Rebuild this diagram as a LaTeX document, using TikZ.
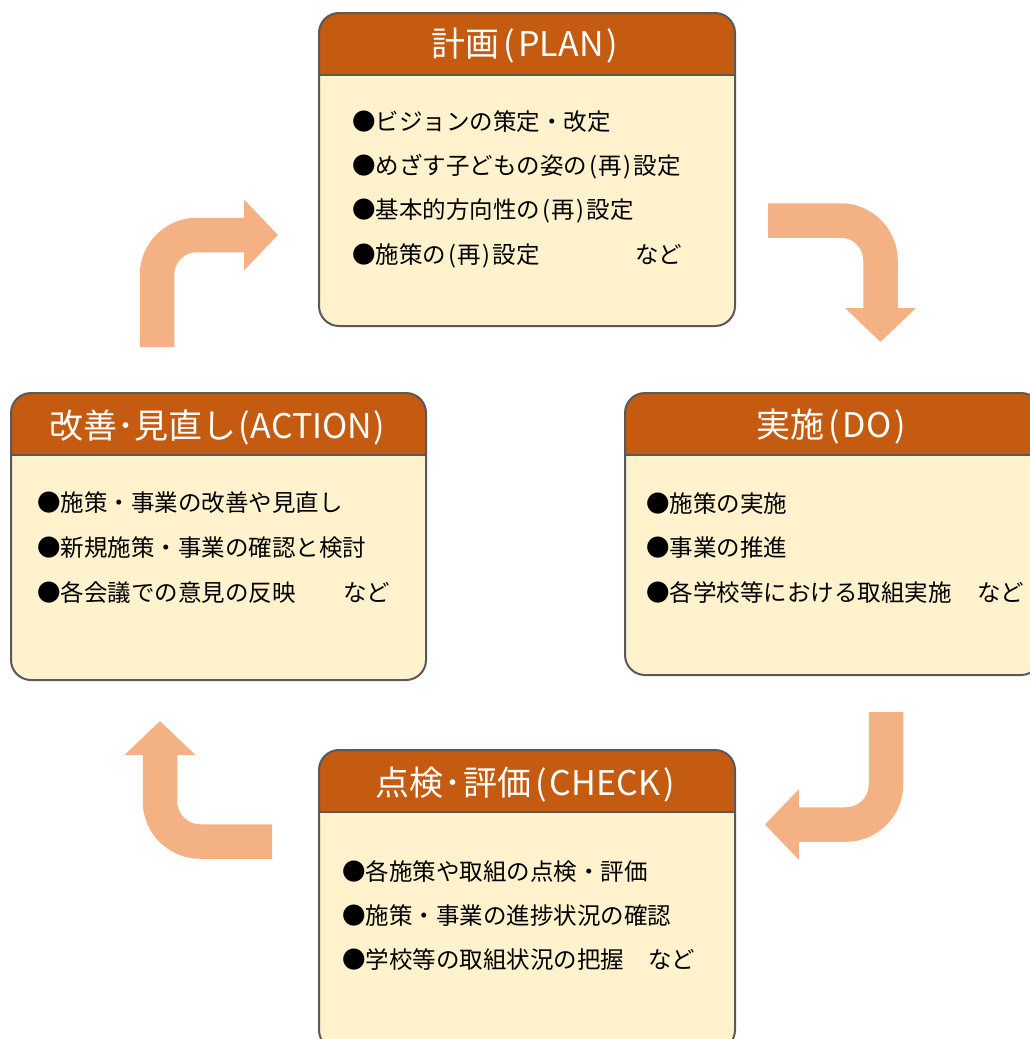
\documentclass[tikz,border=0pt]{standalone}
\usepackage{fontspec}
\newfontfamily\jpfont{Noto Sans CJK JP}
\usetikzlibrary{arrows.meta,calc}
\definecolor{headfill}{HTML}{C55A11}
\definecolor{bodyfill}{HTML}{FFF2CC}
\definecolor{edgecol}{HTML}{595959}
\definecolor{arrowfill}{HTML}{F4B183}
\newcommand{\cardhead}[1]{%
  \begin{scope}
    \clip[rounded corners=20pt] (#1.north west) rectangle (#1.south east);
    \fill[headfill] (#1.north west) rectangle ($(#1.north east)+(0,62)$);
  \end{scope}
  \draw[edge] ($(#1.north west)+(0,62)$) -- ($(#1.north east)+(0,62)$);
  \draw[edge, rounded corners=20pt] (#1.north west) rectangle (#1.south east);
}
% body parentheses and title parentheses with spacing
\newcommand{\bre}{\kern2pt(\kern1.5pt 再\kern1.5pt)\kern2pt}
\newcommand{\tlp}{\kern4pt(\kern3pt}
\newcommand{\trp}{\kern3pt)}
\newcommand{\tdot}{\kern1.5pt･\kern1.5pt}
\begin{document}
\begin{tikzpicture}[x=1pt,y=-1pt,
  boxshape/.style={rectangle, rounded corners=20pt, fill=bodyfill, inner sep=0pt, outer sep=0pt, anchor=north west},
  edge/.style={draw=edgecol, line width=2pt},
  titletext/.style={text=white, font=\jpfont\fontsize{34}{40}\selectfont, inner sep=0pt},
  bodytext/.style={text=black, font=\jpfont\fontsize{23.5}{28}\selectfont, inner sep=0pt, anchor=west},
  cyclearrow/.style={draw=arrowfill, line width=34.5pt, -{Triangle[length=34pt,width=69pt]}, rounded corners=40pt}]
\useasboundingbox (0,0) rectangle (1030,1039);
\clip (0,0) rectangle (1030,1039);

% arrows
\coordinate (a1s) at (157,347); \coordinate (a1m) at (157,235); \coordinate (a1e) at (278,235);
\coordinate (a2s) at (768,220.5); \coordinate (a2m) at (880.5,220.5); \coordinate (a2e) at (880.5,342);
\coordinate (a3s) at (886,712); \coordinate (a3m) at (886,824.5); \coordinate (a3e) at (765,824.5);
\coordinate (a4s) at (272,841.5); \coordinate (a4m) at (160,841.5); \coordinate (a4e) at (160,721);
\draw[cyclearrow] (a1s) -- (a1m) -- (a1e);
\draw[cyclearrow] (a2s) -- (a2m) -- (a2e);
\draw[cyclearrow] (a3s) -- (a3m) -- (a3e);
\draw[cyclearrow] (a4s) -- (a4m) -- (a4e);

% PLAN
\node[boxshape, minimum width=416pt, minimum height=313pt] (planbox) at (319,13) {};
\cardhead{planbox}
\node[titletext] (plantitle) at (525,46) {計画\tlp PLAN\trp};
\node[bodytext] (plan1) at (352,122) {●ビジョンの策定・改定};
\node[bodytext] (plan2) at (352,166.5) {●めざす子どもの姿の\bre 設定};
\node[bodytext] (plan3) at (352,211) {●基本的方向性の\bre 設定};
\node[bodytext, text width=330pt] (plan4) at (352,255.5) {●施策の\bre 設定\hfill{}など};

% DO
\node[boxshape, minimum width=416pt, minimum height=282pt] (dobox) at (625,393) {};
\cardhead{dobox}
\node[titletext] (dotitle) at (831,427) {実施\tlp DO\trp};
\node[bodytext] (do1) at (646,504) {●施策の実施};
\node[bodytext] (do2) at (646,548) {●事業の推進};
\node[bodytext, text width=378pt] (do3) at (646,593) {●各学校等における取組実施\hfill{}など};

% ACTION
\node[boxshape, minimum width=415pt, minimum height=287pt] (actbox) at (11,393) {};
\cardhead{actbox}
\node[titletext] (acttitle) at (217,427) {改善･見直し\kern2pt(\kern1pt ACTION\kern1pt)};
\node[bodytext] (act1) at (37,503) {●施策・事業の改善や見直し};
\node[bodytext] (act2) at (37,548) {●新規施策・事業の確認と検討};
\node[bodytext, text width=353pt] (act3) at (37,593) {●各会議での意見の反映\hfill{}など};

% CHECK
\node[boxshape, minimum width=416pt, minimum height=300pt] (chkbox) at (319,750) {};
\cardhead{chkbox}
\node[titletext] (chktitle) at (525,785) {点検\tdot 評価\tlp CHECK\trp};
\node[bodytext] (chk1) at (342,871.5) {●各施策や取組の点検・評価};
\node[bodytext] (chk2) at (342,916) {●施策・事業の進捗状況の確認};
\node[bodytext, text width=353pt] (chk3) at (342,959.5) {●学校等の取組状況の把握\hfill{}など};
\end{tikzpicture}
\end{document}
